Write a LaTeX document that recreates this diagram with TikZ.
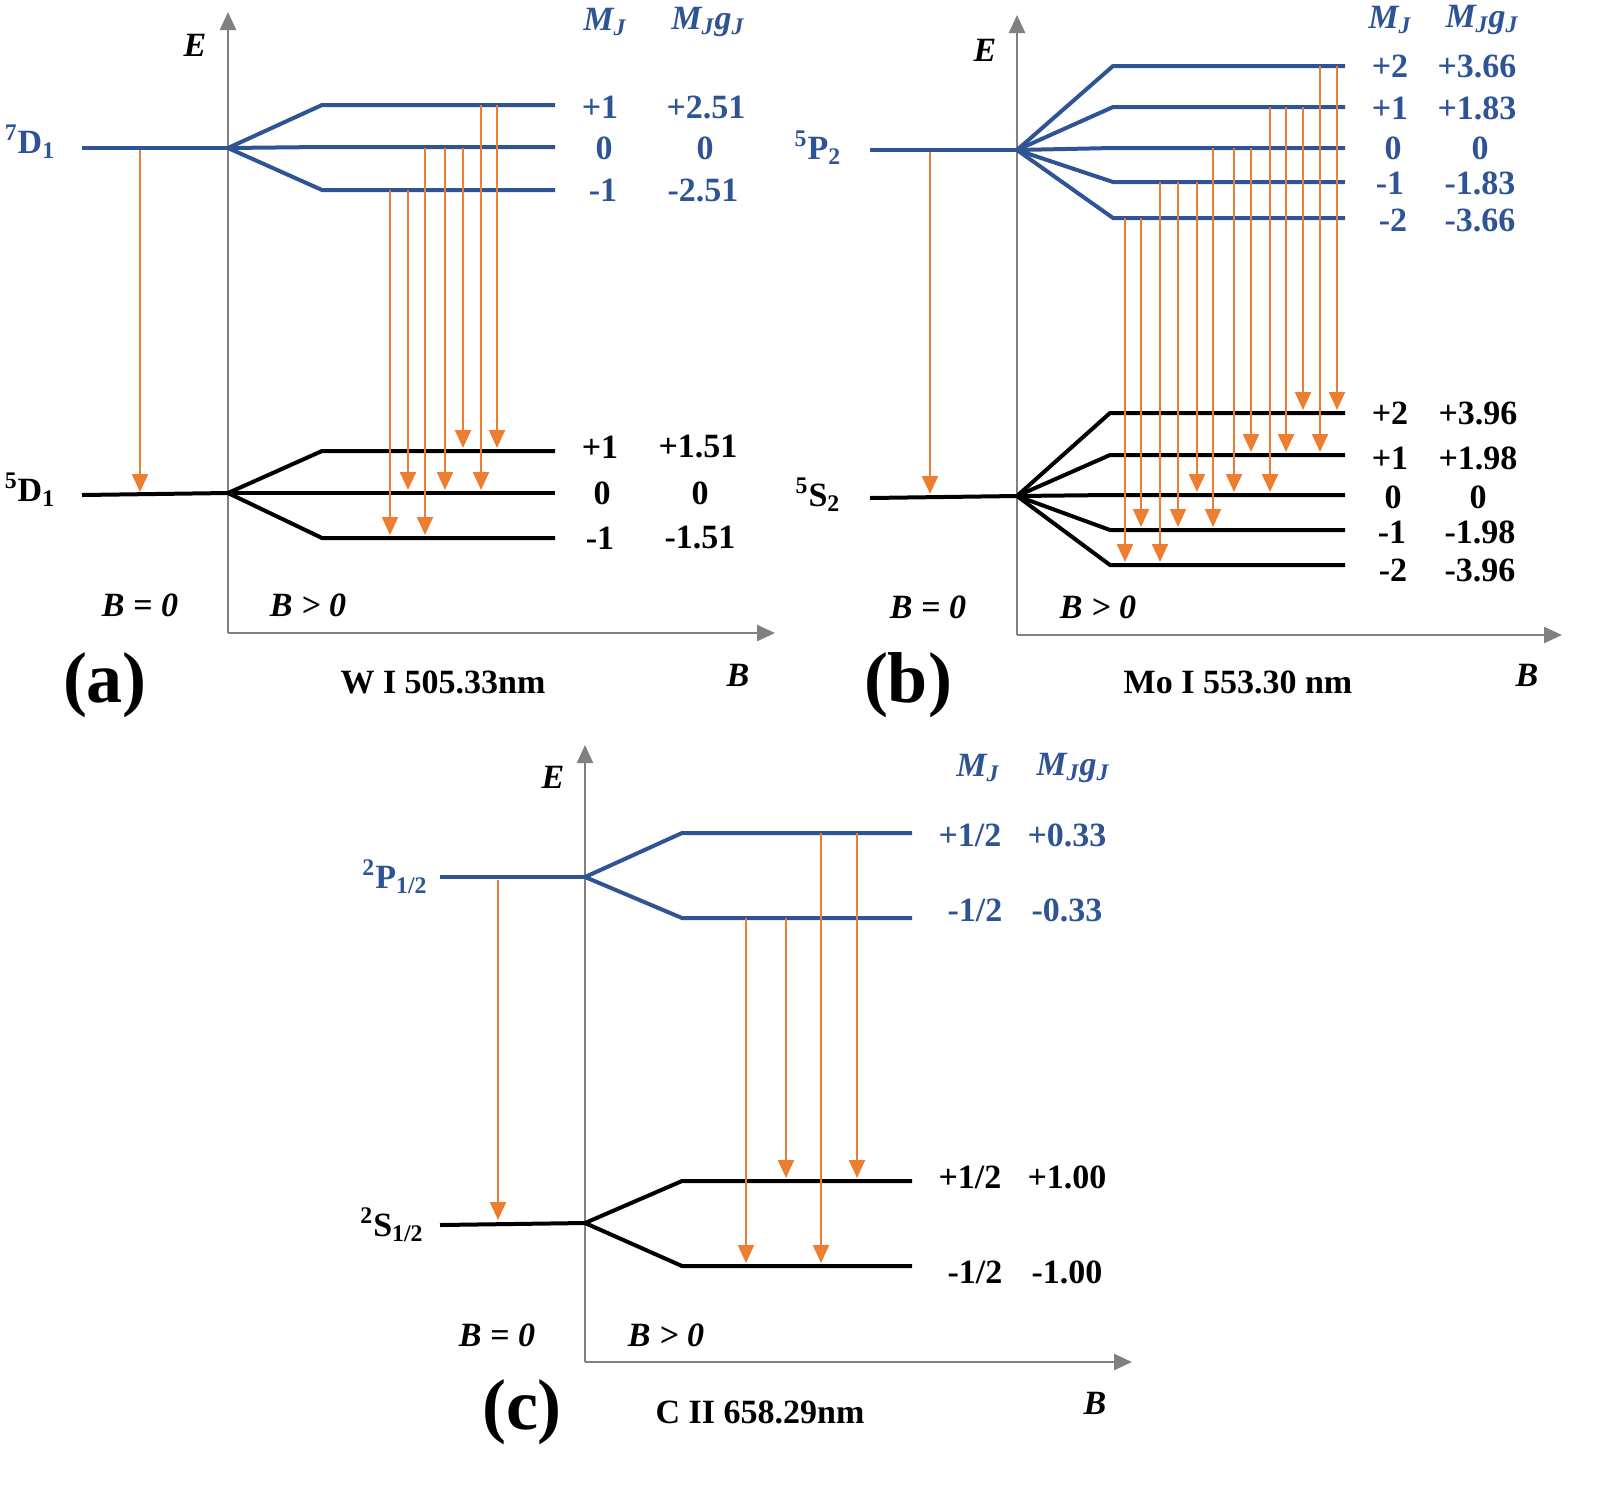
\documentclass[tikz,border=0pt]{standalone}
\usepackage{fontspec}
\setmainfont{Liberation Serif}
\usetikzlibrary{arrows.meta}
\definecolor{lblue}{RGB}{47,84,150}
\definecolor{tor}{RGB}{237,125,49}
\newcommand{\sbs}[1]{\textsubscript{#1}}
\newcommand{\sps}[1]{\textsuperscript{#1}}
\begin{document}
\begin{tikzpicture}[x=0.5pt,y=-0.5pt,
  axis/.style={draw=gray,line width=1.2pt,-{Triangle[width=8pt,length=9pt]}},
  up/.style={draw=lblue,line width=2pt,line join=round},
  lo/.style={draw=black,line width=2pt,line join=round},
  tr/.style={draw=tor,line width=1.1pt,-{Triangle[width=8pt,length=9pt]}},
  t/.style={font=\fontsize{17}{19}\selectfont\bfseries},
  tb/.style={t,text=lblue},
  it/.style={font=\fontsize{17}{19}\selectfont\bfseries\itshape},
  itb/.style={it,text=lblue},
  big/.style={font=\fontsize{36}{38}\selectfont\bfseries}]
\useasboundingbox (0,0) rectangle (1600,1484);
\newcommand{\tra}[3]{\draw[tr] (#1,#2) -- (#1,#3);}
% ---------- (a)
\coordinate (ao) at (228,633);
\draw[axis] (ao) -- (228,12);
\draw[axis] (ao) -- (775,633);
\node[it] (aE) at (195,45) {E};
\node[it] (aB) at (738,675) {B};
\draw[up] (82,148) -- (228,148);
\draw[up] (228,148) -- (322,105) -- (555,105);
\draw[up] (228,148) -- (322,147) -- (555,147);
\draw[up] (228,148) -- (322,190) -- (555,190);
\draw[lo] (82,495) -- (228,493);
\draw[lo] (228,493) -- (322,451) -- (555,451);
\draw[lo] (228,493) -- (322,493) -- (555,493);
\draw[lo] (228,493) -- (322,538) -- (555,538);
\node[tb] at (30,142) {\sps{7}D\sbs{1}};
\node[t] at (30,490) {\sps{5}D\sbs{1}};
\node[itb] at (605,22) {M\sbs{J}};
\node[itb] at (708,22) {M\sbs{J}g\sbs{J}};
\node[tb] at (600,107) {+1}; \node[tb] at (706,107) {+2.51};
\node[tb] at (604,148) {0}; \node[tb] at (705,148) {0};
\node[tb] at (603,190) {-1}; \node[tb] at (703,190) {-2.51};
\node[t] at (600,447) {+1}; \node[t] at (698,447) {+1.51};
\node[t] at (602,493) {0}; \node[t] at (700,493) {0};
\node[t] at (600,538) {-1}; \node[t] at (700,538) {-1.51};
\node[it] at (140,605) {B = 0};
\node[it] at (308,605) {B > 0};
\node[big] at (105,685) {(a)};
\node[t] at (443,682) {W I 505.33nm};
\tra{140}{150}{492}
\tra{390}{190}{535}\tra{408}{190}{490}\tra{425}{148}{535}\tra{445}{148}{490}
\tra{463}{148}{448}\tra{481}{105}{490}\tra{497}{105}{448}
% ---------- (b)
\coordinate (bo) at (1017,635);
\draw[axis] (bo) -- (1017,15);
\draw[axis] (bo) -- (1562,635);
\node[it] at (985,50) {E};
\node[it] at (1527,675) {B};
\draw[up] (870,150) -- (1017,150);
\foreach \y in {66,107,148,182,218}{\draw[up] (1017,150) -- (1113,\y) -- (1345,\y);}
\draw[lo] (870,498) -- (1017,496);
\foreach \y in {413,455,495,530,565}{\draw[lo] (1017,496) -- (1110,\y) -- (1345,\y);}
\node[tb] at (818,148) {\sps{5}P\sbs{2}};
\node[t] at (818,495) {\sps{5}S\sbs{2}};
\node[itb] at (1390,20) {M\sbs{J}};
\node[itb] at (1482,20) {M\sbs{J}g\sbs{J}};
\node[tb] at (1390,66) {+2}; \node[tb] at (1477,66) {+3.66};
\node[tb] at (1390,108) {+1}; \node[tb] at (1477,108) {+1.83};
\node[tb] at (1393,148) {0}; \node[tb] at (1480,148) {0};
\node[tb] at (1390,183) {-1}; \node[tb] at (1480,183) {-1.83};
\node[tb] at (1393,220) {-2}; \node[tb] at (1480,220) {-3.66};
\node[t] at (1390,413) {+2}; \node[t] at (1478,413) {+3.96};
\node[t] at (1390,458) {+1}; \node[t] at (1478,458) {+1.98};
\node[t] at (1393,497) {0}; \node[t] at (1478,497) {0};
\node[t] at (1392,532) {-1}; \node[t] at (1480,532) {-1.98};
\node[t] at (1393,570) {-2}; \node[t] at (1480,570) {-3.96};
\node[it] at (928,607) {B = 0};
\node[it] at (1098,607) {B > 0};
\node[big] at (908,685) {(b)};
\node[t] at (1238,682) {Mo I 553.30 nm};
\tra{930}{152}{494}
\tra{1125}{218}{562}\tra{1141}{218}{527}
\tra{1160}{182}{562}\tra{1178}{182}{527}\tra{1197}{182}{492}
\tra{1213}{148}{527}\tra{1234}{148}{492}\tra{1251}{148}{452}
\tra{1270}{107}{492}\tra{1286}{107}{452}\tra{1303}{107}{410}
\tra{1320}{66}{452}\tra{1337}{66}{410}
% ---------- (c)
\coordinate (co) at (585,1362);
\draw[axis] (co) -- (585,745);
\draw[axis] (co) -- (1132,1362);
\node[it] at (553,777) {E};
\node[it] at (1095,1403) {B};
\draw[up] (440,877) -- (585,877);
\draw[up] (585,877) -- (682,833) -- (912,833);
\draw[up] (585,877) -- (682,918) -- (912,918);
\draw[lo] (440,1225) -- (585,1223);
\draw[lo] (585,1223) -- (682,1181) -- (912,1181);
\draw[lo] (585,1223) -- (682,1266) -- (912,1266);
\node[tb] at (395,877) {\sps{2}P\sbs{1/2}};
\node[t] at (392,1225) {\sps{2}S\sbs{1/2}};
\node[itb] at (978,768) {M\sbs{J}};
\node[itb] at (1073,768) {M\sbs{J}g\sbs{J}};
\node[tb] at (970,835) {+1/2}; \node[tb] at (1067,835) {+0.33};
\node[tb] at (975,910) {-1/2}; \node[tb] at (1067,910) {-0.33};
\node[t] at (970,1177) {+1/2}; \node[t] at (1067,1177) {+1.00};
\node[t] at (975,1272) {-1/2}; \node[t] at (1067,1272) {-1.00};
\node[it] at (497,1335) {B = 0};
\node[it] at (666,1335) {B > 0};
\node[big] at (522,1412) {(c)};
\node[t] at (760,1412) {C II 658.29nm};
\tra{498}{880}{1220}
\tra{746}{918}{1263}\tra{786}{918}{1178}\tra{821}{833}{1263}\tra{857}{833}{1178}
\end{tikzpicture}
\end{document}
